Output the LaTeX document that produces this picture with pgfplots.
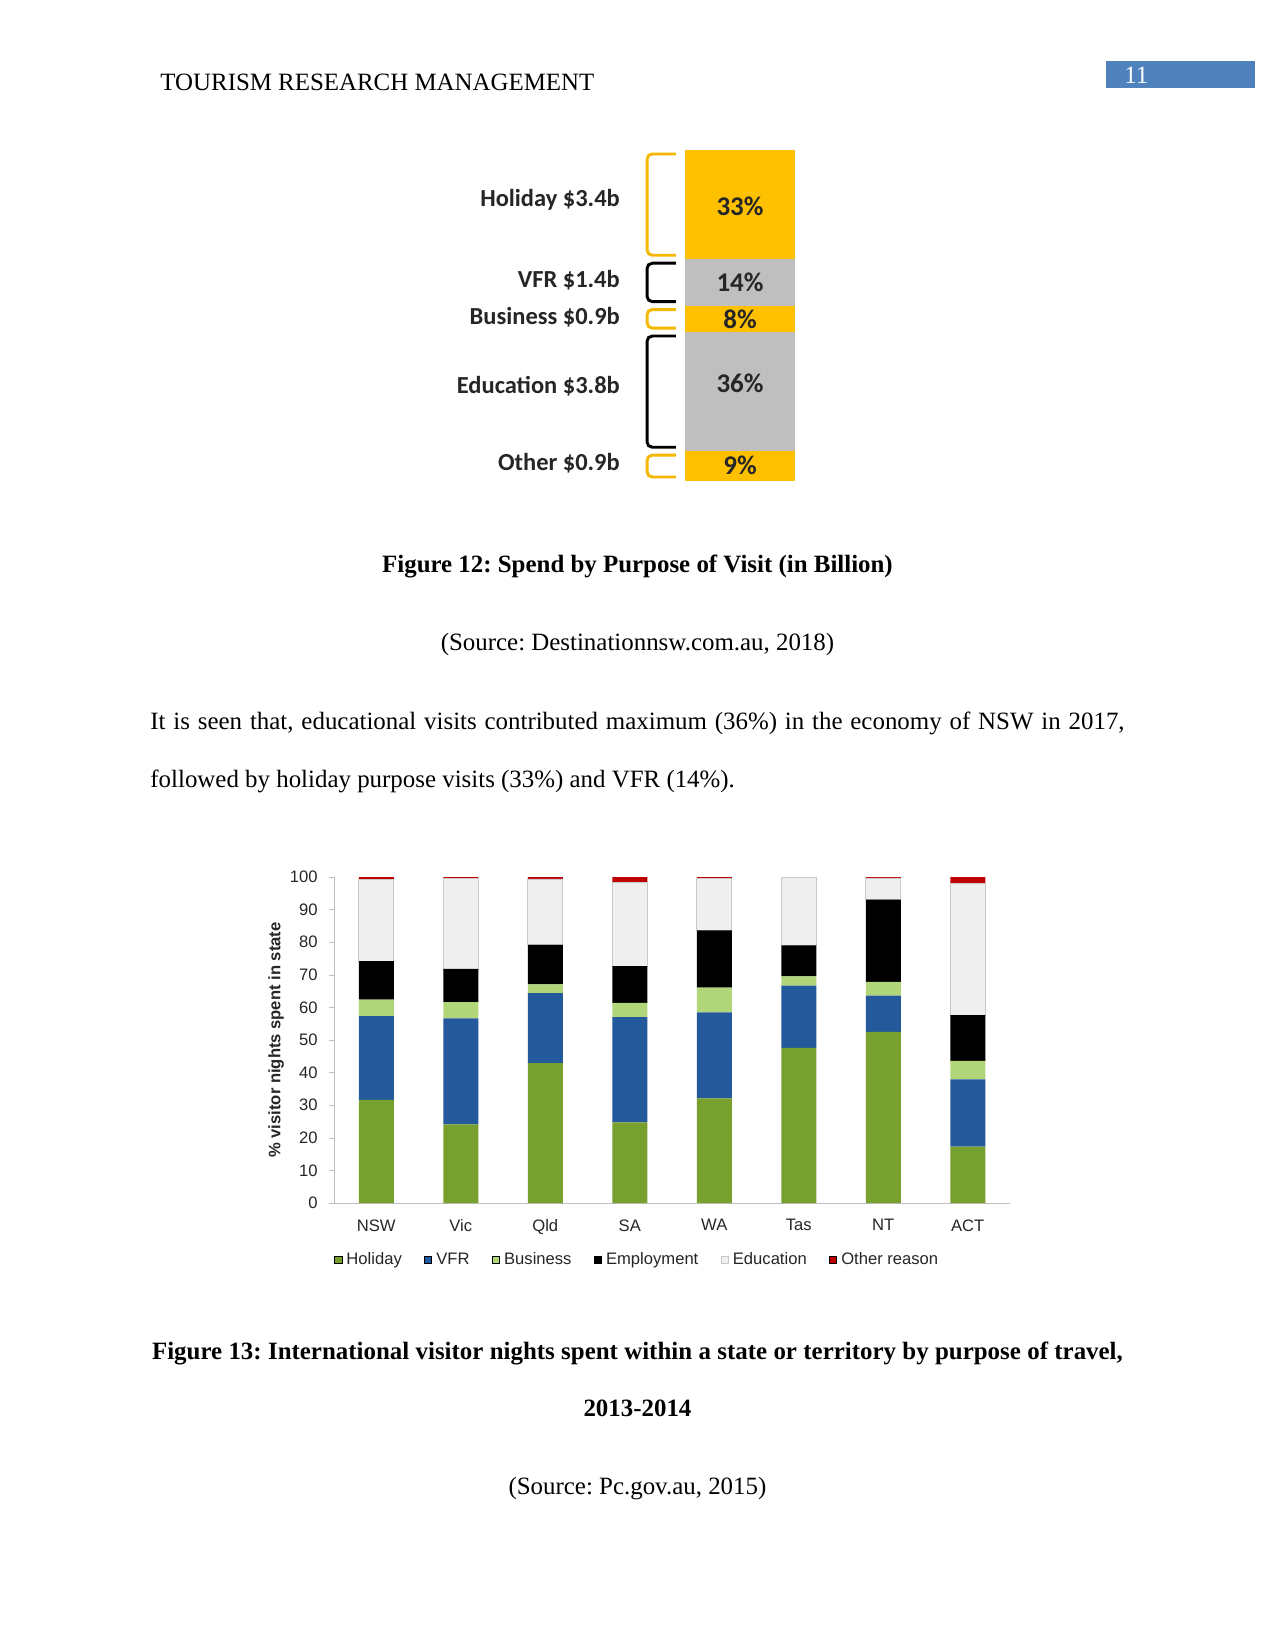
\documentclass[border=0pt]{standalone}
\usepackage{fontspec}
\setmainfont{Liberation Serif}
\newfontfamily\calibri{Carlito}
\newfontfamily\arial{Liberation Sans}
\usepackage{pgfplots}
\pgfplotsset{compat=1.18}
\frenchspacing

\definecolor{gold}{HTML}{FFC000}
\definecolor{brkGold}{HTML}{F5B800}
\definecolor{segGray}{HTML}{BFBFBF}
\definecolor{hdrBlue}{HTML}{4F81BD}
\definecolor{holGreen}{HTML}{77A02F}
\definecolor{vfrBlue}{HTML}{245A9C}
\definecolor{busGreen}{HTML}{B1D67A}
\definecolor{eduGray}{HTML}{EFEFEF}
\definecolor{eduEdge}{HTML}{C8C8C8}
\definecolor{othRed}{HTML}{C00000}

\tikzset{lbl/.style={inner sep=0, text=black!85, font=\calibri\bfseries\fontsize{11.8}{13}\selectfont},
  pct/.style={inner sep=0, text=black!85, font=\calibri\bfseries\fontsize{13}{15}\selectfont},
  brk/.style={line width=1.4bp, rounded corners=2.5bp}}

\begin{document}
\begin{tikzpicture}[font=\fontsize{12}{14.4}\selectfont]
\fill[white] (0,0) rectangle (612bp,-792bp);
\path[use as bounding box] (0,0) rectangle (612bp,-792bp);

% page text, in pixels of the 1275x1650 page
\begin{scope}[x=0.48bp,y=-0.48bp]
  \fill[hdrBlue] (1106,61) rectangle (1255,88);
  \node[anchor=base west, inner sep=0, text=white] at (1124,84) {11};
  \node[anchor=base west, inner sep=0] at (160,91) {TOURISM RESEARCH MANAGEMENT};
  \node[anchor=base, inner sep=0] at (637.5,572.5) {\bfseries Figure 12: Spend by Purpose of Visit (in Billion)};
  \node[anchor=base, inner sep=0] at (637.5,650.5) {(Source: Destinationnsw.com.au, 2018)};
  \node[anchor=base west, inner sep=0] at (150,729.5)
    {\makebox[467.6bp][s]{It is seen that, educational visits contributed maximum (36\%) in the economy of NSW in 2017,}};
  \node[anchor=base west, inner sep=0] at (150,788)
    {followed by holiday purpose visits (33\%) and VFR (14\%).};
  \node[anchor=base, inner sep=0] at (637.5,1359.5)
    {\bfseries\makebox[466bp][s]{Figure 13: International visitor nights spent within a state or territory by purpose of travel,}};
  \node[anchor=base, inner sep=0] at (637.5,1416.5) {\bfseries 2013-2014};
  \node[anchor=base, inner sep=0] at (637.5,1495) {(Source: Pc.gov.au, 2015)};
\end{scope}

% Figure 12: spend by purpose of visit
\begin{axis}[
  at={(328.8bp,-230.88bp)}, anchor=south west,
  scale only axis, width=52.8bp, height=158.88bp,
  ybar stacked, bar width=52.8bp,
  xmin=-0.5, xmax=0.5, ymin=0, ymax=100,
  enlargelimits=false,
  axis lines=none, clip=false,
]
\addplot[fill=gold, draw=none] coordinates {(0,9)};
\addplot[fill=segGray, draw=none] coordinates {(0,36)};
\addplot[fill=gold, draw=none] coordinates {(0,8)};
\addplot[fill=segGray, draw=none] coordinates {(0,14)};
\addplot[fill=gold, draw=none] coordinates {(0,33)};

\draw[brkGold, brk]
  (axis cs:-0.582,98.8) -- (axis cs:-0.845,98.8) -- (axis cs:-0.845,68.2) -- (axis cs:-0.582,68.2);
\draw[black, brk]
  (axis cs:-0.582,65.8) -- (axis cs:-0.845,65.8) -- (axis cs:-0.845,54.2) -- (axis cs:-0.582,54.2);
\draw[brkGold, brk]
  (axis cs:-0.582,51.8) -- (axis cs:-0.845,51.8) -- (axis cs:-0.845,46.2) -- (axis cs:-0.582,46.2);
\draw[black, brk]
  (axis cs:-0.582,43.8) -- (axis cs:-0.845,43.8) -- (axis cs:-0.845,10.2) -- (axis cs:-0.582,10.2);
\draw[brkGold, brk]
  (axis cs:-0.582,7.8) -- (axis cs:-0.845,7.8) -- (axis cs:-0.845,1.2) -- (axis cs:-0.582,1.2);

\node[lbl, anchor=east] at (axis cs:-1.089,84.9) {Holiday \$3.4b};
\node[lbl, anchor=east] at (axis cs:-1.089,60.7) {VFR \$1.4b};
\node[lbl, anchor=east] at (axis cs:-1.089,49.6) {Business \$0.9b};
\node[lbl, anchor=east] at (axis cs:-1.089,28.5) {Education \$3.8b};
\node[lbl, anchor=east] at (axis cs:-1.089,5.3) {Other \$0.9b};
\coordinate (p33) at (axis cs:0,82.9);
\coordinate (p14) at (axis cs:0,59.9);
\coordinate (p8) at (axis cs:0,49);
\coordinate (p36) at (axis cs:0,29.6);
\coordinate (p9) at (axis cs:0,4.8);
\end{axis}
\node[pct] at (p33) {33\%};
\node[pct] at (p14) {14\%};
\node[pct] at (p8) {8\%};
\node[pct] at (p36) {36\%};
\node[pct] at (p9) {9\%};

% Figure 13: visitor nights by purpose of travel
\begin{axis}[
  at={(160.32bp,-577.44bp)}, anchor=south west,
  scale only axis, width=324.48bp, height=156.48bp,
  ybar stacked, bar width=16.8bp,
  xmin=-0.5, xmax=7.5, ymin=0, ymax=100,
  xtick=data, xticklabels={NSW,Vic,Qld,SA,WA,Tas,NT,ACT},
  ytick={0,10,...,100},
  axis x line*=bottom, axis y line*=left,
  axis line style={draw=black!25, -},
  tick align=outside, major tick length=2.4bp,
  ytick style={draw=black!25},
  xtick style={draw=none},
  tick label style={font=\arial\fontsize{8}{9}\selectfont, text=black!85},
  xticklabel style={yshift=-2bp},
  yticklabel style={xshift=-2bp},
  /pgf/number format/assume math mode=true,
  ylabel={\% visitor nights spent in state},
  ylabel style={font=\arial\bfseries\fontsize{8}{9}\selectfont, text=black!85,
    at={(axis description cs:-0.0858,0.5)}, anchor=center},
  legend columns=6,
  legend style={draw=none, fill=none, inner xsep=0pt,
    at={(0,-0.175)}, anchor=west,
    font=\arial\fontsize{8}{9}\selectfont, text=black!85,
    /tikz/every even column/.append style={column sep=8.8bp}},
  legend image code/.code={\draw[#1] (0bp,-1.7bp) rectangle (3.4bp,1.7bp);},
]
\addplot[fill=holGreen, draw=none] coordinates
  {(0,31.6) (1,24.1) (2,42.9) (3,24.7) (4,32.1) (5,47.6) (6,52.5) (7,17.3)};
\addplot[fill=vfrBlue, draw=none] coordinates
  {(0,25.7) (1,32.5) (2,21.5) (3,32.3) (4,26.4) (5,19.1) (6,11.1) (7,20.6)};
\addplot[fill=busGreen, draw=none] coordinates
  {(0,5.1) (1,5.0) (2,2.7) (3,4.4) (4,7.6) (5,2.8) (6,4.2) (7,5.7)};
\addplot[fill=black, draw=none] coordinates
  {(0,11.8) (1,10.2) (2,12.1) (3,11.3) (4,17.5) (5,9.5) (6,25.3) (7,14.0)};
\addplot[fill=eduGray, draw=eduEdge, line width=0.4bp] coordinates
  {(0,25.1) (1,27.8) (2,20.2) (3,25.6) (4,15.9) (5,20.8) (6,6.6) (7,40.4)};
\addplot[fill=othRed, draw=none] coordinates
  {(0,0.7) (1,0.4) (2,0.6) (3,1.7) (4,0.5) (5,0.2) (6,0.3) (7,2.0)};
\legend{Holiday,VFR,Business,Employment,Education,Other reason}
\end{axis}
\end{tikzpicture}
\end{document}
